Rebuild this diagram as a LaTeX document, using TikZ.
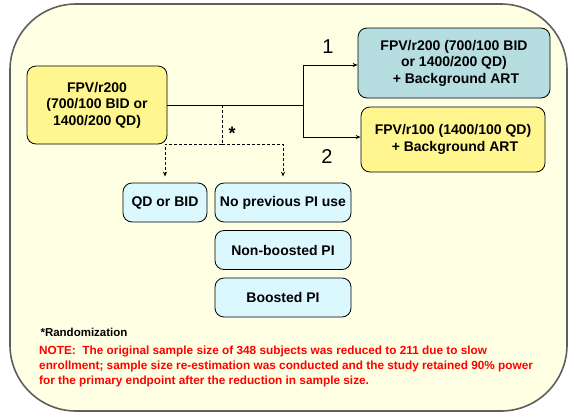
\documentclass[tikz,border=0pt]{standalone}
\usepackage{fontspec}
\setmainfont{Liberation Sans}
\usetikzlibrary{arrows.meta,calc}

\definecolor{pagebg}{HTML}{FFFFE3}
\definecolor{framegray}{HTML}{5F5F5F}
\definecolor{armyellow}{HTML}{FFF68F}
\definecolor{armblue}{HTML}{B6DDE0}
\definecolor{strcyan}{HTML}{DCF8FF}
\definecolor{notered}{HTML}{FF0000}

\tikzset{
  armbox/.style={draw=black, line width=0.8pt, rounded corners=9pt, align=center,
    font=\fontsize{14}{16.5}\selectfont\bfseries, inner sep=2pt},
  stratbox/.style={armbox, fill=strcyan, minimum height=39pt},
  link/.style={draw=black, line width=0.8pt, -{Stealth[length=5pt,width=4pt]}},
  rndlink/.style={link, dashed, dash pattern=on 3pt off 2pt, shorten >=6pt}
}

\begin{document}
\begin{tikzpicture}[x=1pt,y=-1pt]

% ===== Rahmen =====
\useasboundingbox (0,0) rectangle (569,413);
\draw[framegray, line width=1.6pt, fill=pagebg, rounded corners=66pt] (10,4) rectangle (567,411);

% ===== Behandlungsarme =====
\node[armbox, fill=armyellow, minimum width=140pt, minimum height=78pt] (start) at (97,105)
  {FPV/r200\\(700/100 BID or\\1400/200 QD)};
\node[armbox, fill=armblue, minimum width=192pt, minimum height=70pt] (arm1) at (454,63)
  {FPV/r200 (700/100 BID\\or 1400/200 QD)\\\ + Background ART};
\node[armbox, fill=armyellow, minimum width=184pt, minimum height=65pt] (arm2) at (453,139.5)
  {FPV/r100 (1400/100 QD)\\\ + Background ART};

% ===== Strata =====
\node[stratbox, minimum width=84pt] (qdbid) at (165,202.5) {QD or BID};
\node[stratbox, minimum width=136pt] (noprev) at (283,202.5) {No previous PI use};
\node[stratbox, minimum width=136pt] (nonboost) at (283,250) {Non-boosted PI};
\node[stratbox, minimum width=136pt] (boost) at (283,297.5) {Boosted PI};

% ===== Randomisierung =====
\coordinate (split) at (303,105);
\coordinate (rnd) at (222,105);
\coordinate (rndbar) at (222,144);
\draw[line width=0.8pt] (start.east) -- (split);
\draw[link] (split) |- ([yshift=-2pt]arm1.west);
\draw[link] (split) |- ([yshift=2.5pt]arm2.west);
\node[font=\fontsize{20}{20}\selectfont] (lab1) at (328,47) {1};
\node[font=\fontsize{20}{20}\selectfont] (lab2) at (327,157) {2};

\draw[line width=0.8pt, dashed, dash pattern=on 3pt off 2pt] (rnd) -- (rndbar);
\draw[rndlink] (rndbar) -| (qdbid.north);
\draw[rndlink] (rndbar) -| (noprev.north);
\node[font=\fontsize{18}{18}\selectfont\bfseries] (star) at (232,133) {*};

% ===== Fussnoten =====
\node[anchor=west, font=\fontsize{11.5}{13}\selectfont\bfseries] (randnote) at (37,332) {*Randomization};
\node[anchor=north west, align=left, text=notered, inner sep=2pt,
  font=\fontsize{11.8}{15}\selectfont\bfseries] (note) at (37,344)
  {NOTE:\ \ The original sample size of 348 subjects was reduced to 211 due to slow\\
   enrollment; sample size re-estimation was conducted and the study retained 90\% power\\
   for the primary endpoint after the reduction in sample size.};

\end{tikzpicture}
\end{document}
